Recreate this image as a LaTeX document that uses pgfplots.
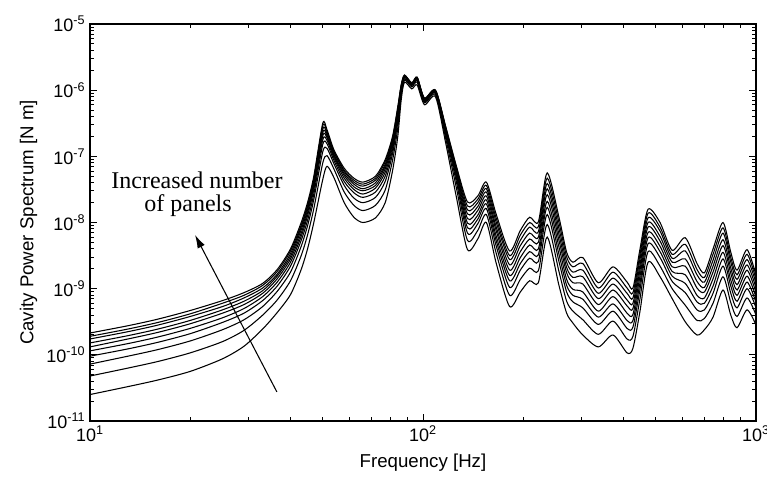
\documentclass[border=0pt]{standalone}
\usepackage{pgfplots}
\pgfplotsset{compat=1.18}
\usepackage{pgfplotstable}
\usepackage{fontspec}
\setmainfont{Liberation Sans}
\newfontfamily\annfont{Liberation Serif}
\usetikzlibrary{arrows.meta}

% log10 of the cavity power spectrum, c0 = top curve ... c9 = bottom curve
\pgfplotstableread{
f c0 c1 c2 c3 c4 c5 c6 c7 c8 c9
10 -9.67 -9.72 -9.76 -9.82 -9.88 -9.94 -10.02 -10.14 -10.32 -10.60
13 -9.56 -9.61 -9.65 -9.71 -9.76 -9.83 -9.91 -10.02 -10.20 -10.48
16 -9.46 -9.51 -9.55 -9.61 -9.66 -9.73 -9.81 -9.92 -10.10 -10.38
20 -9.33 -9.38 -9.42 -9.48 -9.53 -9.60 -9.68 -9.79 -9.97 -10.25
25 -9.18 -9.22 -9.27 -9.32 -9.37 -9.44 -9.51 -9.62 -9.80 -10.06
29 -9.06 -9.10 -9.14 -9.19 -9.24 -9.30 -9.37 -9.47 -9.63 -9.87
33 -8.92 -8.95 -8.99 -9.03 -9.07 -9.12 -9.18 -9.27 -9.40 -9.61
36.5 -8.71 -8.74 -8.78 -8.81 -8.85 -8.90 -8.96 -9.04 -9.17 -9.36
40 -8.40 -8.43 -8.47 -8.51 -8.55 -8.60 -8.66 -8.75 -8.88 -9.09
43 -8.01 -8.05 -8.08 -8.12 -8.17 -8.22 -8.28 -8.37 -8.51 -8.72
45 -7.70 -7.74 -7.77 -7.81 -7.85 -7.90 -7.97 -8.05 -8.19 -8.40
47 -7.30 -7.34 -7.37 -7.41 -7.45 -7.50 -7.57 -7.65 -7.79 -8.00
50 -6.50 -6.54 -6.59 -6.64 -6.69 -6.75 -6.82 -6.93 -7.10 -7.35
51.5 -6.60 -6.63 -6.66 -6.69 -6.72 -6.76 -6.81 -6.88 -6.99 -7.15
54 -6.90 -6.92 -6.94 -6.97 -6.99 -7.02 -7.06 -7.11 -7.19 -7.32
58 -7.18 -7.21 -7.23 -7.26 -7.29 -7.33 -7.38 -7.44 -7.54 -7.70
62 -7.33 -7.36 -7.39 -7.42 -7.46 -7.50 -7.55 -7.63 -7.74 -7.92
66 -7.39 -7.42 -7.45 -7.49 -7.52 -7.57 -7.62 -7.70 -7.82 -8.00
72 -7.30 -7.33 -7.36 -7.40 -7.44 -7.48 -7.54 -7.62 -7.74 -7.93
77 -7.05 -7.08 -7.12 -7.15 -7.19 -7.24 -7.30 -7.38 -7.51 -7.70
81 -6.70 -6.73 -6.75 -6.78 -6.81 -6.85 -6.90 -6.96 -7.06 -7.22
84 -6.25 -6.27 -6.30 -6.32 -6.35 -6.38 -6.42 -6.48 -6.57 -6.70
86 -5.92 -5.93 -5.94 -5.96 -5.97 -5.99 -6.01 -6.04 -6.08 -6.15
88 -5.77 -5.78 -5.78 -5.79 -5.79 -5.80 -5.81 -5.83 -5.85 -5.88
92.5 -5.89 -5.89 -5.90 -5.90 -5.91 -5.92 -5.92 -5.93 -5.95 -5.98
96 -5.80 -5.81 -5.81 -5.82 -5.83 -5.83 -5.85 -5.86 -5.88 -5.92
101 -6.12 -6.12 -6.13 -6.14 -6.14 -6.15 -6.16 -6.17 -6.19 -6.22
109 -6.00 -6.00 -6.01 -6.02 -6.02 -6.03 -6.04 -6.05 -6.07 -6.10
117 -6.55 -6.56 -6.58 -6.59 -6.61 -6.62 -6.65 -6.68 -6.73 -6.80
126 -7.15 -7.17 -7.20 -7.23 -7.25 -7.29 -7.33 -7.39 -7.48 -7.62
136 -7.69 -7.75 -7.81 -7.87 -7.94 -8.01 -8.08 -8.16 -8.27 -8.41
146 -7.60 -7.65 -7.70 -7.76 -7.82 -7.89 -7.95 -8.02 -8.12 -8.25
155 -7.39 -7.44 -7.49 -7.54 -7.60 -7.66 -7.72 -7.79 -7.88 -8.00
166 -7.88 -7.94 -8.00 -8.07 -8.13 -8.21 -8.28 -8.36 -8.47 -8.62
182 -8.43 -8.50 -8.56 -8.64 -8.72 -8.80 -8.88 -8.98 -9.10 -9.27
196 -8.12 -8.19 -8.27 -8.35 -8.44 -8.53 -8.62 -8.72 -8.86 -9.05
209 -7.92 -8.00 -8.07 -8.16 -8.25 -8.34 -8.44 -8.54 -8.69 -8.88
222 -7.99 -8.06 -8.14 -8.22 -8.30 -8.40 -8.49 -8.59 -8.73 -8.91
236 -7.25 -7.33 -7.41 -7.49 -7.58 -7.68 -7.77 -7.88 -8.03 -8.22
256 -7.92 -8.00 -8.09 -8.18 -8.27 -8.37 -8.48 -8.59 -8.74 -8.95
270 -8.45 -8.52 -8.60 -8.68 -8.76 -8.86 -8.95 -9.05 -9.19 -9.37
282 -8.60 -8.67 -8.75 -8.83 -8.91 -9.01 -9.10 -9.20 -9.34 -9.52
302 -8.53 -8.62 -8.72 -8.82 -8.93 -9.05 -9.16 -9.29 -9.47 -9.70
336 -8.91 -8.99 -9.07 -9.15 -9.24 -9.34 -9.43 -9.54 -9.69 -9.88
372 -8.67 -8.75 -8.84 -8.93 -9.02 -9.12 -9.23 -9.34 -9.49 -9.70
410 -8.90 -8.99 -9.07 -9.17 -9.26 -9.37 -9.48 -9.60 -9.76 -9.97
427 -8.99 -9.06 -9.14 -9.22 -9.30 -9.39 -9.48 -9.58 -9.72 -9.90
448 -8.41 -8.49 -8.56 -8.65 -8.73 -8.82 -8.92 -9.02 -9.16 -9.35
474 -7.80 -7.86 -7.93 -8.00 -8.07 -8.15 -8.23 -8.32 -8.44 -8.60
515 -8.00 -8.07 -8.13 -8.21 -8.28 -8.36 -8.44 -8.53 -8.66 -8.82
560 -8.42 -8.48 -8.54 -8.60 -8.67 -8.74 -8.81 -8.89 -9.00 -9.15
613 -8.23 -8.33 -8.43 -8.55 -8.66 -8.79 -8.92 -9.06 -9.25 -9.50
665 -8.62 -8.71 -8.79 -8.89 -8.99 -9.10 -9.20 -9.32 -9.48 -9.70
700 -8.76 -8.83 -8.90 -8.98 -9.05 -9.14 -9.22 -9.32 -9.45 -9.62
743 -8.40 -8.48 -8.57 -8.66 -8.75 -8.85 -8.96 -9.07 -9.22 -9.43
796 -8.00 -8.08 -8.16 -8.26 -8.35 -8.45 -8.55 -8.66 -8.82 -9.02
840 -8.45 -8.53 -8.60 -8.69 -8.77 -8.87 -8.96 -9.07 -9.21 -9.40
877 -8.72 -8.79 -8.86 -8.94 -9.02 -9.10 -9.19 -9.29 -9.42 -9.59
940 -8.41 -8.48 -8.56 -8.64 -8.72 -8.81 -8.90 -9.00 -9.14 -9.32
1000 -8.80 -8.86 -8.92 -8.99 -9.06 -9.13 -9.21 -9.29 -9.40 -9.55
}\spectra

\begin{document}
\begin{tikzpicture}
\begin{axis}[
    name=ax,
    scale only axis,
    width=499.5pt, height=297.75pt,
    xmode=log, ymode=log,
    xmin=10, xmax=1000,
    ymin=1e-11, ymax=1e-5,
    xtick={10,100,1000},
    xticklabels={10\textsuperscript{1},10\textsuperscript{2},10\textsuperscript{3}},
    minor xtick={20,30,40,50,60,70,80,90,200,300,400,500,600,700,800,900},
    ytick={1e-11,1e-10,1e-9,1e-8,1e-7,1e-6,1e-5},
    yticklabels={10\textsuperscript{-11},10\textsuperscript{-10},10\textsuperscript{-9},
        10\textsuperscript{-8},10\textsuperscript{-7},10\textsuperscript{-6},10\textsuperscript{-5}},
    minor ytick={2e-11,3e-11,4e-11,5e-11,6e-11,7e-11,8e-11,9e-11,
        2e-10,3e-10,4e-10,5e-10,6e-10,7e-10,8e-10,9e-10,
        2e-9,3e-9,4e-9,5e-9,6e-9,7e-9,8e-9,9e-9,
        2e-8,3e-8,4e-8,5e-8,6e-8,7e-8,8e-8,9e-8,
        2e-7,3e-7,4e-7,5e-7,6e-7,7e-7,8e-7,9e-7,
        2e-6,3e-6,4e-6,5e-6,6e-6,7e-6,8e-6,9e-6},
    axis line style={line width=0.9pt},
    major tick length=5pt, minor tick length=3pt,
    tick style={black, line width=0.7pt},
    tick label style={font=\fontsize{13.5}{15}\selectfont},
    label style={font=\fontsize{14}{16}\selectfont},
    xlabel={Frequency [Hz]},
    ylabel={Cavity Power Spectrum [N m]},
    xlabel style={yshift=-2pt},
]
\pgfplotsinvokeforeach{0,...,9}{
    \addplot[black, line width=0.8pt, smooth, tension=0.45]
        table[x=f, y expr=10^(\thisrow{c#1})] {\spectra};
}
\node[inner sep=0pt, font=\annfont\fontsize{18}{20}\selectfont] at (axis cs:20.96,4.4e-8) {Increased number};
\node[inner sep=0pt, font=\annfont\fontsize{18}{20}\selectfont] at (axis cs:19.7,1.8e-8) {of panels};
\draw[-{Latex[length=10pt,width=6pt]}, line width=0.8pt]
    (axis cs:36.4,2.76e-11) -- (axis cs:20.67,6.5e-9);
\end{axis}
\pgfresetboundingbox
\path[use as bounding box] ([shift={(-67.5pt,-48.75pt)}]ax.south west)
    rectangle ([shift={(8.25pt,18pt)}]ax.north east);
\end{tikzpicture}
\end{document}
